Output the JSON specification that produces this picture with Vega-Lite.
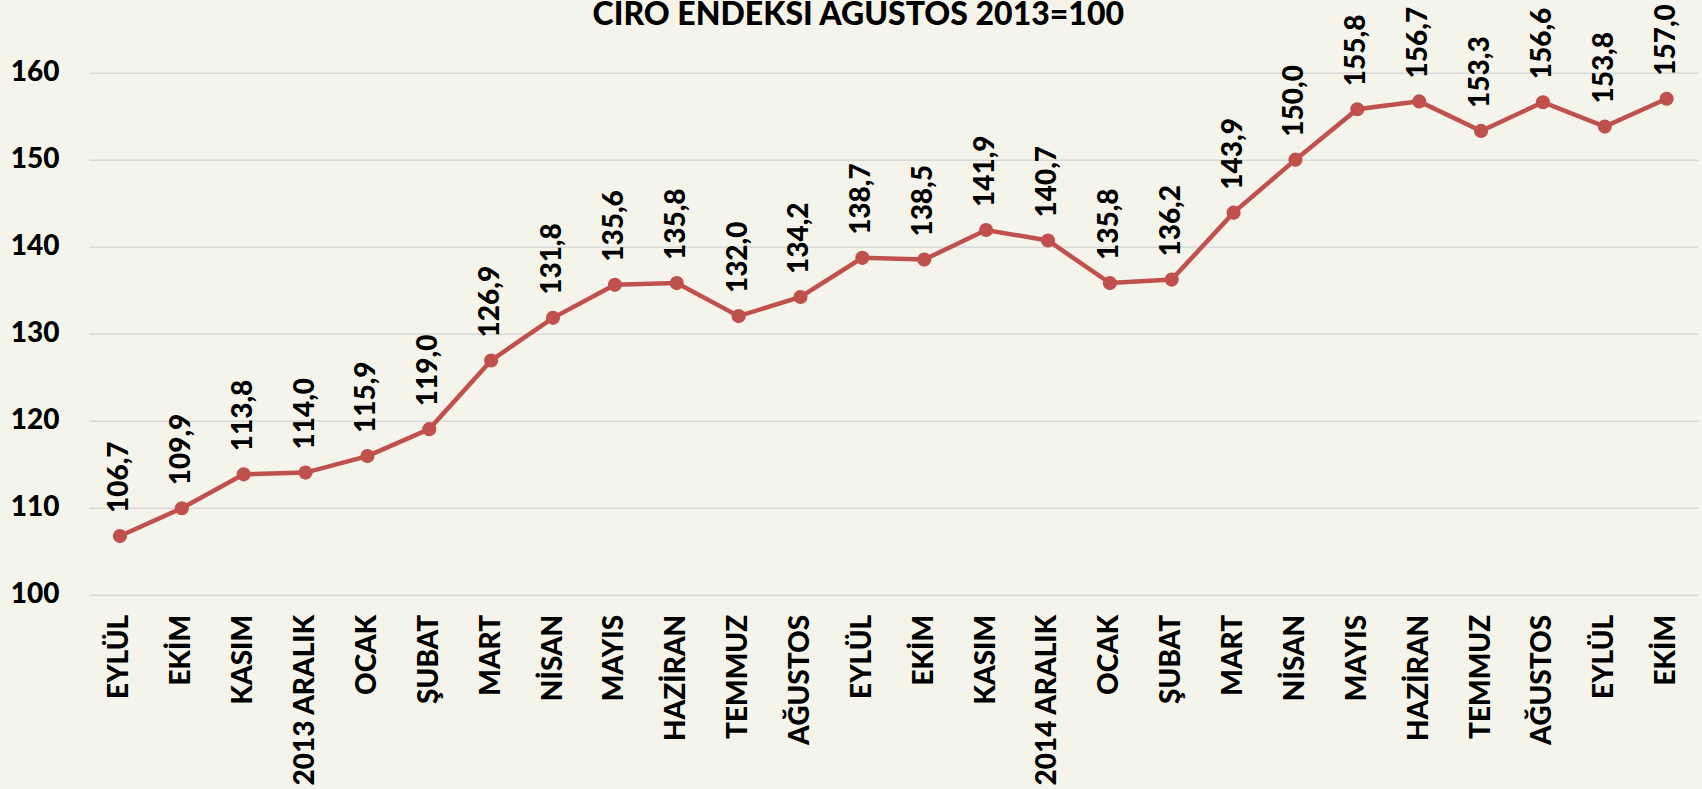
{
  "$schema": "https://vega.github.io/schema/vega-lite/v6.json",
  "autosize": "none",
  "width": 1608.6,
  "height": 521.6,
  "padding": {"left": 89, "top": 72.7, "right": 4.4, "bottom": 194.7},
  "background": "#F5F4EA",
  "title": {
    "text": "CİRO ENDEKSİ AĞUSTOS 2013=100",
    "font": "Lato",
    "fontWeight": 900,
    "fontSize": 32,
    "color": "#000000",
    "anchor": "middle",
    "dx": -35,
    "offset": -28
  },
  "config": {
    "view": {"stroke": null},
    "axis": {"labelFont": "Lato", "labelFontWeight": 900, "labelColor": "#000000", "labelFontSize": 28}
  },
  "data": {
    "values": [
      {"ay": "EYLÜL|13", "deger": 106.7, "etiket": "106,7"},
      {"ay": "EKİM|13", "deger": 109.9, "etiket": "109,9"},
      {"ay": "KASIM|13", "deger": 113.8, "etiket": "113,8"},
      {"ay": "2013 ARALIK|13", "deger": 114.0, "etiket": "114,0"},
      {"ay": "OCAK|14", "deger": 115.9, "etiket": "115,9"},
      {"ay": "ŞUBAT|14", "deger": 119.0, "etiket": "119,0"},
      {"ay": "MART|14", "deger": 126.9, "etiket": "126,9"},
      {"ay": "NİSAN|14", "deger": 131.8, "etiket": "131,8"},
      {"ay": "MAYIS|14", "deger": 135.6, "etiket": "135,6"},
      {"ay": "HAZİRAN|14", "deger": 135.8, "etiket": "135,8"},
      {"ay": "TEMMUZ|14", "deger": 132.0, "etiket": "132,0"},
      {"ay": "AĞUSTOS|14", "deger": 134.2, "etiket": "134,2"},
      {"ay": "EYLÜL|14", "deger": 138.7, "etiket": "138,7"},
      {"ay": "EKİM|14", "deger": 138.5, "etiket": "138,5"},
      {"ay": "KASIM|14", "deger": 141.9, "etiket": "141,9"},
      {"ay": "2014 ARALIK|14", "deger": 140.7, "etiket": "140,7"},
      {"ay": "OCAK|15", "deger": 135.8, "etiket": "135,8"},
      {"ay": "ŞUBAT|15", "deger": 136.2, "etiket": "136,2"},
      {"ay": "MART|15", "deger": 143.9, "etiket": "143,9"},
      {"ay": "NİSAN|15", "deger": 150.0, "etiket": "150,0"},
      {"ay": "MAYIS|15", "deger": 155.8, "etiket": "155,8"},
      {"ay": "HAZİRAN|15", "deger": 156.7, "etiket": "156,7"},
      {"ay": "TEMMUZ|15", "deger": 153.3, "etiket": "153,3"},
      {"ay": "AĞUSTOS|15", "deger": 156.6, "etiket": "156,6"},
      {"ay": "EYLÜL|15", "deger": 153.8, "etiket": "153,8"},
      {"ay": "EKİM|15", "deger": 157.0, "etiket": "157,0"}
    ]
  },
  "encoding": {
    "x": {
      "field": "ay",
      "type": "ordinal",
      "sort": null,
      "scale": {"type": "point", "padding": 0.5},
      "axis": {
        "title": null,
        "labelAngle": -90,
        "labelExpr": "split(datum.label, '|')[0]",
        "ticks": false,
        "domain": false,
        "labelPadding": 20,
        "labelAlign": "right",
        "labelBaseline": "middle"
      }
    },
    "y": {
      "field": "deger",
      "type": "quantitative",
      "scale": {"domain": [100, 160], "nice": false, "zero": false},
      "axis": {
        "title": null,
        "values": [100, 110, 120, 130, 140, 150, 160],
        "ticks": false,
        "domain": false,
        "labelPadding": 30,
        "gridColor": "#D9D9D9",
        "gridWidth": 1.5
      }
    }
  },
  "layer": [
    {
      "mark": {"type": "line", "color": "#C0504D", "strokeWidth": 4.5, "clip": false}
    },
    {
      "mark": {"type": "point", "filled": true, "opacity": 1, "color": "#C0504D", "size": 200, "clip": false}
    },
    {
      "mark": {
        "type": "text",
        "angle": 270,
        "align": "left",
        "baseline": "middle",
        "dx": 23,
        "font": "Lato",
        "fontWeight": 900,
        "fontSize": 28,
        "color": "#000000"
      },
      "encoding": {"text": {"field": "etiket"}}
    }
  ]
}
